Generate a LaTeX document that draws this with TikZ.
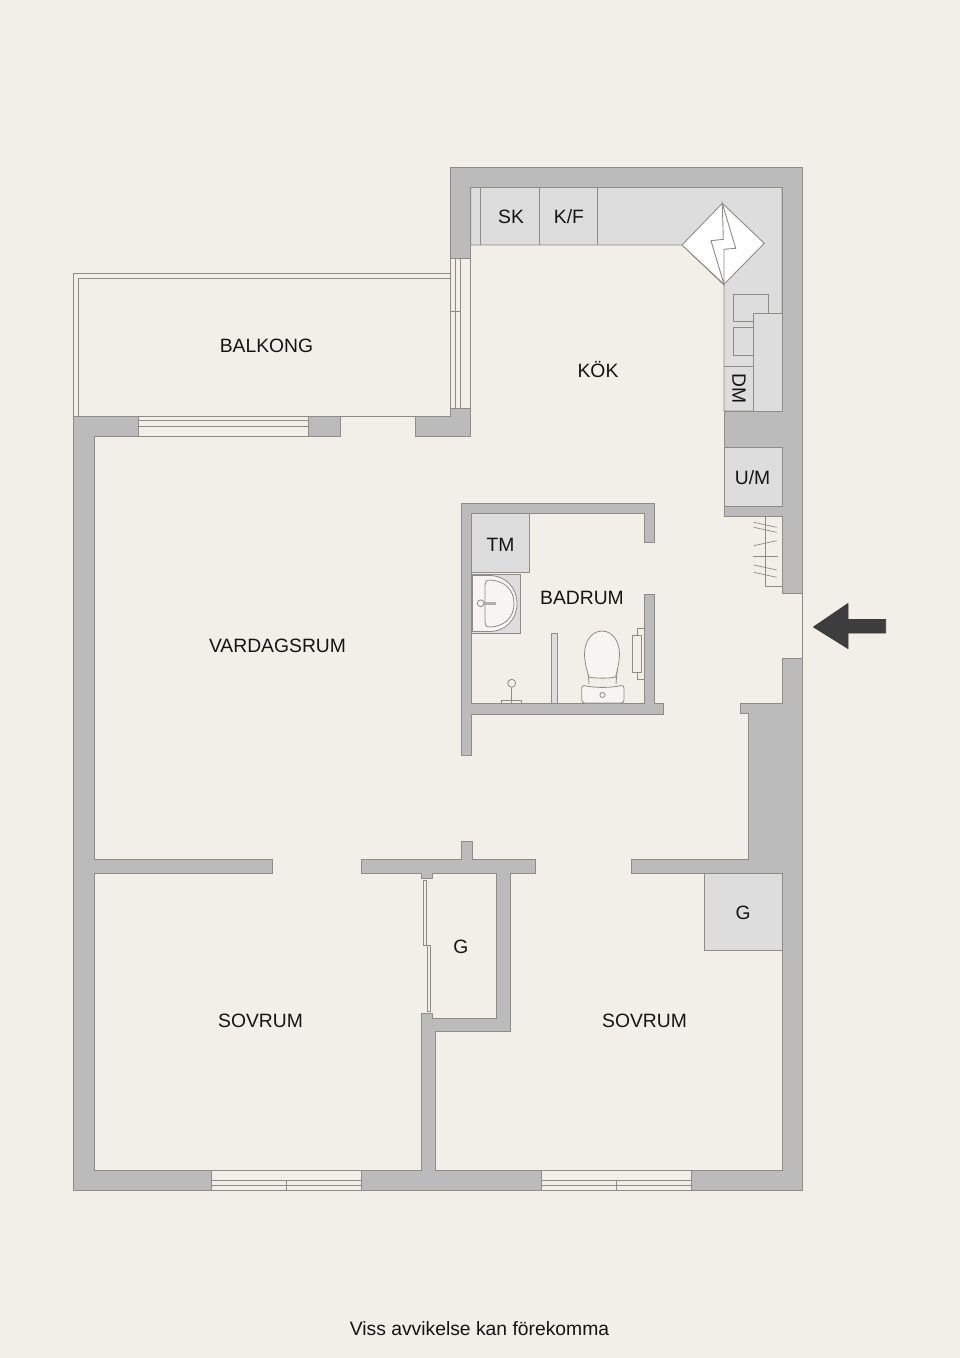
\documentclass[tikz,border=0pt]{standalone}
\usepackage{fontspec}
\setmainfont{Liberation Sans}
\definecolor{bg}{HTML}{F2EFE9}
\definecolor{wallfill}{HTML}{BBBBBB}
\definecolor{edge}{HTML}{8E8C88}
\definecolor{counter}{HTML}{DDDDDD}
\definecolor{inkdark}{HTML}{3D3D3D}
\tikzset{
  wall/.style={fill=wallfill,draw=edge,line width=0.9pt,line join=miter},
  unit/.style={fill=counter,draw=edge,line width=0.9pt},
  fine/.style={draw=edge,line width=0.9pt},
  glass/.style={fill=bg,draw=edge,line width=0.9pt},
  ware/.style={fill=white!35!bg,draw=edge,line width=0.8pt},
  label/.style={anchor=base,inner sep=0pt,outer sep=0pt,text=black!92,font=\fontsize{19.3}{22}\selectfont},
}
\begin{document}
\begin{tikzpicture}[x=1pt,y=-1pt]
\useasboundingbox (0,0) rectangle (960,1358);
\fill[bg] (0,0) rectangle (960,1358);
% balcony rails
\draw[fine] (450.7,416) -- (73.7,416) -- (73.7,273.3) -- (450.7,273.3);
\draw[fine] (78.7,416) -- (78.7,278.3) -- (450.7,278.3);
\draw[fine] (450.7,258) -- (450.7,416);
\draw[fine] (455.7,258) -- (455.7,408);
\draw[fine] (460.7,258) -- (460.7,408);
\draw[fine] (470.7,258) -- (470.7,408);
\draw[fine] (450.7,311.7) -- (460.7,311.7);
% kitchen counter
\draw[unit] (470.7,187) -- (782,187) -- (782,411) -- (724,411) -- (724,285) -- (682,245) -- (470.7,245) -- cycle;
\draw[fine] (480.3,187) -- (480.3,245);
\draw[fine] (539,187) -- (539,245);
\draw[fine] (597.5,187) -- (597.5,245);
\path[fill=white,draw=edge,line width=0.9pt] (722.3,203.3) -- (764.3,243.3) -- (724,284.3) -- (682,245) -- cycle;
\draw[fine,line join=miter] (722.3,203.3) -- (735.7,248.3) -- (724,249.3) -- (724,284.3) -- (711,240.7) -- (723.3,239.3) -- cycle;
\draw[fine] (733.3,321) -- (733.3,294.3) -- (768,294.3) -- (768,313);
\draw[fine] (733.3,321) -- (753,321);
\draw[fine] (753,327) -- (733.3,327) -- (733.3,355.3) -- (753,355.3);
\draw[unit] (753.3,411) rectangle (782,313);
\draw[fine] (724,366.3) -- (753.3,366.3);
% walls
\draw[wall] (73.7,416) -- (138,416) -- (138,436) -- (94,436) -- (94,859) -- (272,859) -- (272,873) -- (94,873) -- (94,1170) -- (211,1170) -- (211,1190) -- (73.7,1190) -- cycle;
\draw[wall] (361,1170) -- (421,1170) -- (421,1013) -- (432,1013) -- (432,1018) -- (496.5,1018) -- (496.5,873) -- (432,873) -- (432,878) -- (421,878) -- (421,873) -- (361,873) -- (361,859) -- (461,859) -- (461,841) -- (472,841) -- (472,859) -- (535,859) -- (535,873) -- (510,873) -- (510,1031) -- (435,1031) -- (435,1170) -- (541,1170) -- (541,1190) -- (361,1190) -- cycle;
\draw[wall] (691,1170) -- (782,1170) -- (782,873) -- (631,873) -- (631,859) -- (748,859) -- (748,713.5) -- (740,713.5) -- (740,703) -- (782,703) -- (782,658) -- (802.7,658) -- (802.7,1190) -- (691,1190) -- cycle;
\draw[wall] (802.7,593.7) -- (802.7,167) -- (450.7,167) -- (450.7,258) -- (470.7,258) -- (470.7,187) -- (782,187) -- (782,411) -- (724,411) -- (724,516) -- (782,516) -- (782,593.7) -- cycle;
\draw[wall] (415.7,416) -- (450.7,416) -- (450.7,408) -- (470.7,408) -- (470.7,436) -- (415.7,436) -- cycle;
\draw[wall] (308,416) rectangle (340.7,436);
\draw[wall] (461,503) -- (654,503) -- (654,542) -- (644,542) -- (644,513.3) -- (471.7,513.3) -- (471.7,703) -- (644,703) -- (644,594) -- (654,594) -- (654,703) -- (663.3,703) -- (663.3,714) -- (471.7,714) -- (471.7,755.5) -- (461,755.5) -- cycle;
% entrance threshold
\draw[draw=edge,line width=0.5pt] (802.7,593.7) -- (802.7,658);
% balcony door window
\draw[fine] (138,416) -- (308,416);
\draw[fine] (138,420) -- (308,420);
\draw[fine] (138,426) -- (308,426);
\draw[fine] (138,436) -- (308,436);
% bottom windows
\draw[fine] (211,1170) -- (361,1170);
\draw[fine] (211,1180) -- (361,1180);
\draw[fine] (211,1185) -- (361,1185);
\draw[fine] (211,1190) -- (361,1190);
\draw[fine] (286.3,1180) -- (286.3,1190);
\draw[fine] (541,1170) -- (691,1170);
\draw[fine] (541,1180) -- (691,1180);
\draw[fine] (541,1185) -- (691,1185);
\draw[fine] (541,1190) -- (691,1190);
\draw[fine] (616.3,1180) -- (616.3,1190);
% closet sliding doors
\draw[glass] (423.3,880) rectangle (426.8,945);
\draw[fine] (426.8,945) -- (430,945);
\draw[glass] (427,945) rectangle (430,1011);
% units
\draw[unit] (724,447) rectangle (782,506);
\draw[unit] (704.5,873) rectangle (782,950.3);
\draw[unit] (471.7,513.3) rectangle (529.7,572);
% clothes rail
\draw[fine] (765,516) -- (765,586.3) -- (782,586.3);
\draw[fine,line width=0.7pt] (753.7,522.3) -- (776.7,527.3);
\draw[fine,line width=0.7pt] (753.7,527.3) -- (776.7,532.3);
\draw[fine,line width=0.7pt] (753.7,545.7) -- (776.7,540.7);
\draw[fine,line width=0.7pt] (753,556.3) -- (777.7,556.3);
\draw[fine,line width=0.7pt] (753.7,565) -- (776.7,570);
\draw[fine,line width=0.7pt] (753.7,572.3) -- (776.7,577.3);
% bathroom: basin
\draw[unit] (471.7,574.3) rectangle (520,633);
\path[ware] (472.5,575.5) -- (489,575.5) .. controls (506,575.5) and (517,588) .. (517,603.5) .. controls (517,619) and (506,631.5) .. (489,631.5) -- (472.5,631.5) -- cycle;
\draw[fine,line width=0.8pt] (490,580) -- (489,580) .. controls (505,580.5) and (514,590) .. (514,603.5) .. controls (514,617) and (505,626.5) .. (490,627) .. controls (486,627) and (485,625) .. (485,622) -- (485,585) .. controls (485,582) and (486,580) .. (490,580) -- cycle;
\path[fill=edge!70!white] (480,601.8) rectangle (496,604.6);
\draw[ware] (480.7,603.3) circle[radius=3.4];
% screen
\draw[wall,fill=counter] (551.3,633) rectangle (557.7,703);
% toilet
\draw[fine,line width=0.8pt] (587.5,665) -- (589,684);
\draw[fine,line width=0.8pt] (617.5,665) -- (616,684);
\path[ware] (589,677) .. controls (586,668) and (584.5,660) .. (584.5,654) .. controls (584.5,641) and (592,631) .. (602,631) .. controls (612,631) and (619.5,641) .. (619.5,654) .. controls (619.5,660) and (618,668) .. (615.5,677) .. controls (610,678.5) and (595,678.5) .. (589,677) -- cycle;
\path[ware,rounded corners=3pt] (581.7,685) .. controls (595,688) and (610,688) .. (624,685) -- (624,703) -- (581.7,703) -- cycle;
\draw[fine,line width=0.8pt] (602.5,695) circle[radius=2.6];
% towel rail
\draw[fine,line width=0.8pt] (637,635) -- (637,628) -- (644,628);
\draw[fine,line width=0.8pt] (637,672) -- (637,679) -- (644,679);
\draw[glass,line width=0.8pt] (632.7,635) rectangle (641.7,672);
% tap
\draw[fine,line width=0.8pt] (501.7,703) -- (501.7,700) -- (521.5,700) -- (521.5,703);
\draw[fine,line width=1.4pt] (511.7,687) -- (511.7,703);
\draw[draw=edge,fill=bg,line width=0.8pt] (511.7,683.3) circle[radius=4];
% arrow
\fill[inkdark,line join=round,draw=inkdark,line width=0.8pt] (813.5,627) -- (848,603.5) -- (848,619.5) -- (885.7,619.5) -- (885.7,633) -- (848,633) -- (848,648.5) -- cycle;
% labels
\node[label] (sk) at (511,223) {SK};
\node[label] (kf) at (569,223) {K/F};
\node[label] (kok) at (598,377) {KÖK};
\node[label] (balkong) at (266.5,352) {BALKONG};
\node[label,anchor=center,rotate=-90] (dm) at (739,388.5) {DM};
\node[label] (um) at (752.5,484) {U/M};
\node[label] (tm) at (500.5,551) {TM};
\node[label] (badrum) at (582,604) {BADRUM};
\node[label] (vardagsrum) at (277.5,652) {VARDAGSRUM};
\node[label] (g1) at (461,953) {G};
\node[label] (g2) at (743,919) {G};
\node[label] (sov1) at (260.5,1027) {SOVRUM};
\node[label] (sov2) at (644.5,1027) {SOVRUM};
\node[label] (foot) at (479.5,1335) {Viss avvikelse kan förekomma};
\end{tikzpicture}
\end{document}
